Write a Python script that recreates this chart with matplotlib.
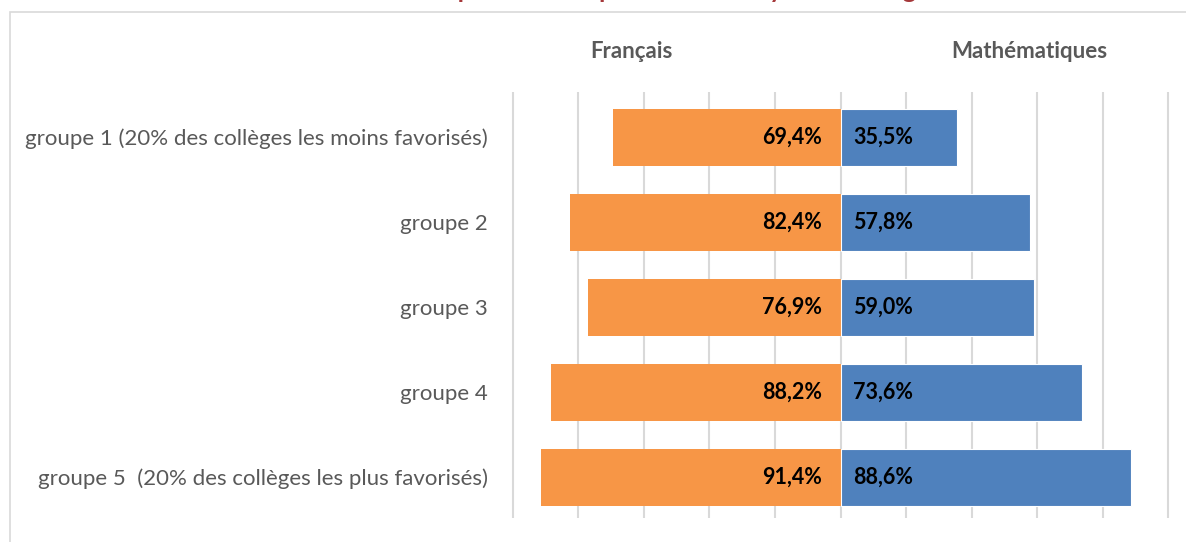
import matplotlib
matplotlib.use("Agg")
from matplotlib import pyplot as plt
from matplotlib.patches import Rectangle

plt.rcParams['font.family'] = ['Lato', 'DejaVu Sans']

groupes = ["groupe 1 (20% des collèges les moins favorisés)",
           "groupe 2",
           "groupe 3",
           "groupe 4",
           "groupe 5  (20% des collèges les plus favorisés)"]
francais = [69.4, 82.4, 76.9, 88.2, 91.4]
maths = [35.5, 57.8, 59.0, 73.6, 88.6]
ticks = [-100, -80, -60, -40, -20, 0, 20, 40, 60, 80, 100]

ORANGE = "#F79646"
BLUE = "#4F81BD"
GRID = "#D9D9D9"

W, H = 1186, 542
fig = plt.figure(figsize=(W / 100, H / 100), dpi=100)
ax = fig.add_axes([511 / W, 1 - 518 / H, (1170 - 511) / W, (518 - 92) / H])

y = list(range(len(groupes)))
ax.barh(y, [-v for v in francais], height=0.67, color=ORANGE, zorder=2)
ax.barh(y, maths, height=0.67, color=BLUE, edgecolor="white", linewidth=0.8, zorder=2)

for yi, f, m in zip(y, francais, maths):
    ax.text(-5.5, yi, f"{f:.1f}%".replace(".", ","), ha="right", va="center",
            fontsize=15.5, fontweight="bold", color="black", zorder=3)
    ax.text(3.8, yi, f"{m:.1f}%".replace(".", ","), ha="left", va="center",
            fontsize=15.5, fontweight="bold", color="black", zorder=3)

ax.set_xlim(-100.5, 100.5)
ax.set_ylim(4.48, -0.53)
ax.set_xticks(ticks)
ax.xaxis.grid(True, color=GRID, linewidth=1.5, zorder=0)
ax.set_axisbelow(True)
ax.tick_params(length=0, labelbottom=False)
ax.set_yticks(y)
ax.set_yticklabels(groupes, fontsize=16, color="#595959")
ax.tick_params(axis="y", pad=16.5)
for s in ax.spines.values():
    s.set_visible(False)

# en-têtes des deux séries
fig.text(631 / W, 1 - 52 / H, "Français", ha="center", va="center",
         fontsize=16, fontweight="bold", color="#595959")
fig.text(1029 / W, 1 - 52 / H, "Mathématiques", ha="center", va="center",
         fontsize=16, fontweight="bold", color="#595959")

# titre coupé en haut de l'image
fig.text(630 / W, 1 + 1.5 / H, "mathématiques selon le profil social moyen du collège",
         ha="center", va="baseline", fontsize=18, fontweight="bold", color="#A5383A")

# cadre du graphique
fig.patches.append(Rectangle((10 / W, -0.1), 1.2, 1.1 - 12 / H, transform=fig.transFigure,
                             fill=False, edgecolor=GRID, linewidth=1.2))

fig.savefig("out.png", dpi=100)
